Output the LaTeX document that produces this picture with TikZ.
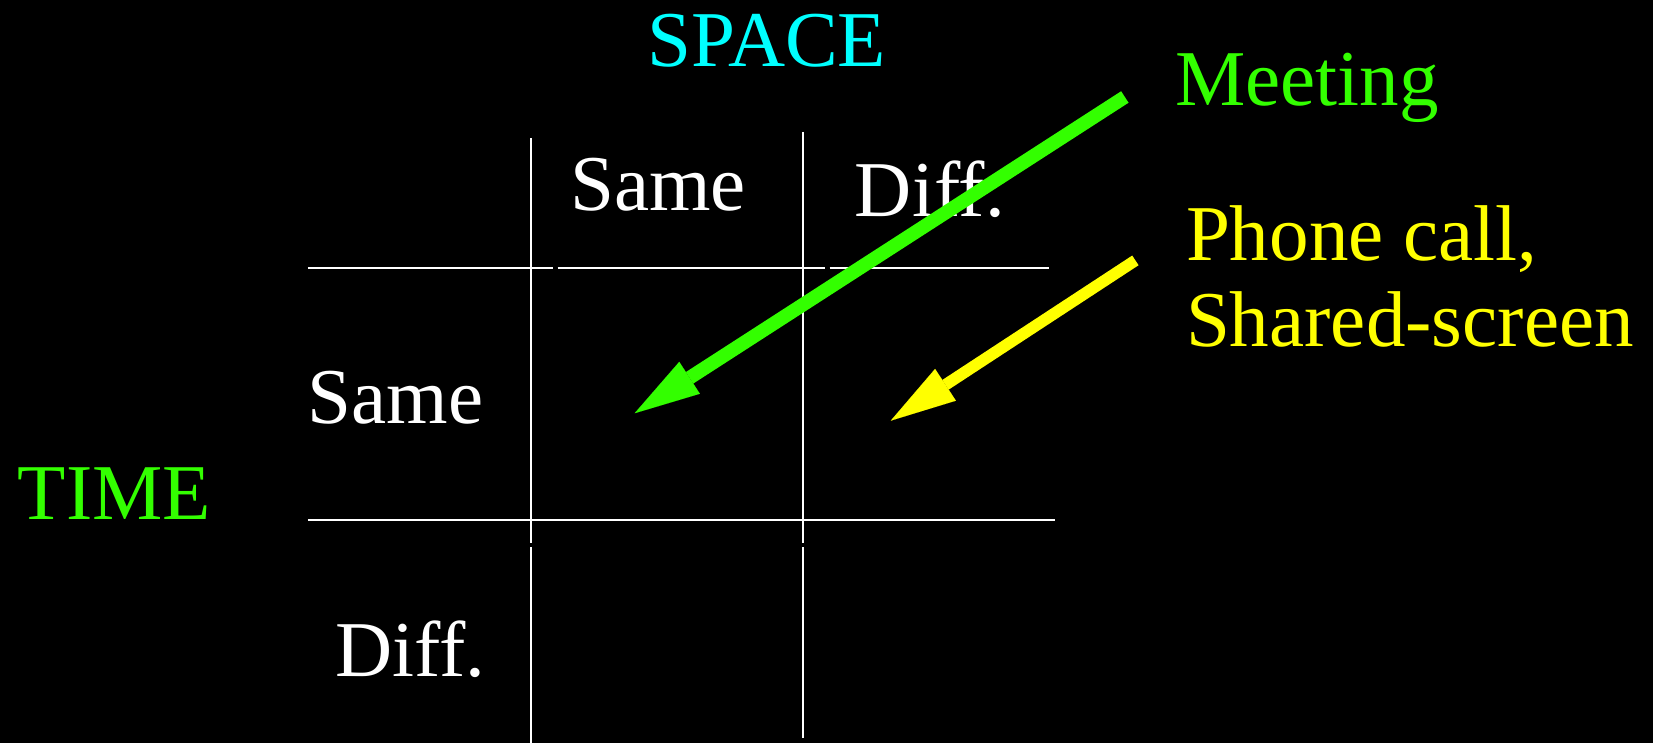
\documentclass[tikz,border=0pt]{standalone}
\usepackage{fontspec}
\setmainfont{Liberation Serif}
\usetikzlibrary{arrows.meta}
\definecolor{mgreen}{RGB}{51,255,0}
\definecolor{mcyan}{RGB}{0,255,255}
\definecolor{myellow}{RGB}{255,255,0}
\begin{document}
\begin{tikzpicture}[x=0.5pt,y=-0.5pt,
  lbl/.style={inner sep=0pt, outer sep=0pt, anchor=base west, font=\fontsize{37.5}{41}\selectfont},
  gridline/.style={white, line width=1.1pt},
  bigarrow/.style={-{Triangle[length=31pt,width=18pt,line width=0.01pt]}}]
\fill[black] (0,0) rectangle (1568,705);
\useasboundingbox (0,0) rectangle (1568,705);

% grid
\draw[gridline] (504,131) -- (504,515) (504,519) -- (504,705);
\draw[gridline] (762,125) -- (762,515) (762,519) -- (762,700);
\draw[gridline] (292,254) -- (525,254) (529,254) -- (783,254) (787,254) -- (995,254);
\draw[gridline] (292,493) -- (1001,493);

% labels
\node[lbl, text=mcyan] (space) at (614,63) {SPACE};
\node[lbl, text=mgreen] (meeting) at (1115,100) {Meeting};
\node[lbl, text=white] (colsame) at (541,200) {Same};
\node[lbl, text=white] (coldiff) at (811,205) {Diff.};
\node[lbl, text=white] (rowsame) at (292,402) {Same};
\node[lbl, text=white] (rowdiff) at (318,642) {Diff.};
\node[lbl, text=mgreen] (time) at (17,493) {TIME};
\node[lbl, text=myellow] (phone) at (1125,247) {Phone call,};
\node[lbl, text=myellow] (shared) at (1125,329) {Shared-screen};

% arrows
\coordinate (gtail) at (1067,92);
\coordinate (gtip) at (602,392);
\coordinate (ytail) at (1077,247);
\coordinate (ytip) at (845,399);
\draw[bigarrow, mgreen, line width=6.5pt] (gtail) -- (gtip);
\draw[bigarrow, myellow, line width=5.5pt] (ytail) -- (ytip);
\end{tikzpicture}
\end{document}
